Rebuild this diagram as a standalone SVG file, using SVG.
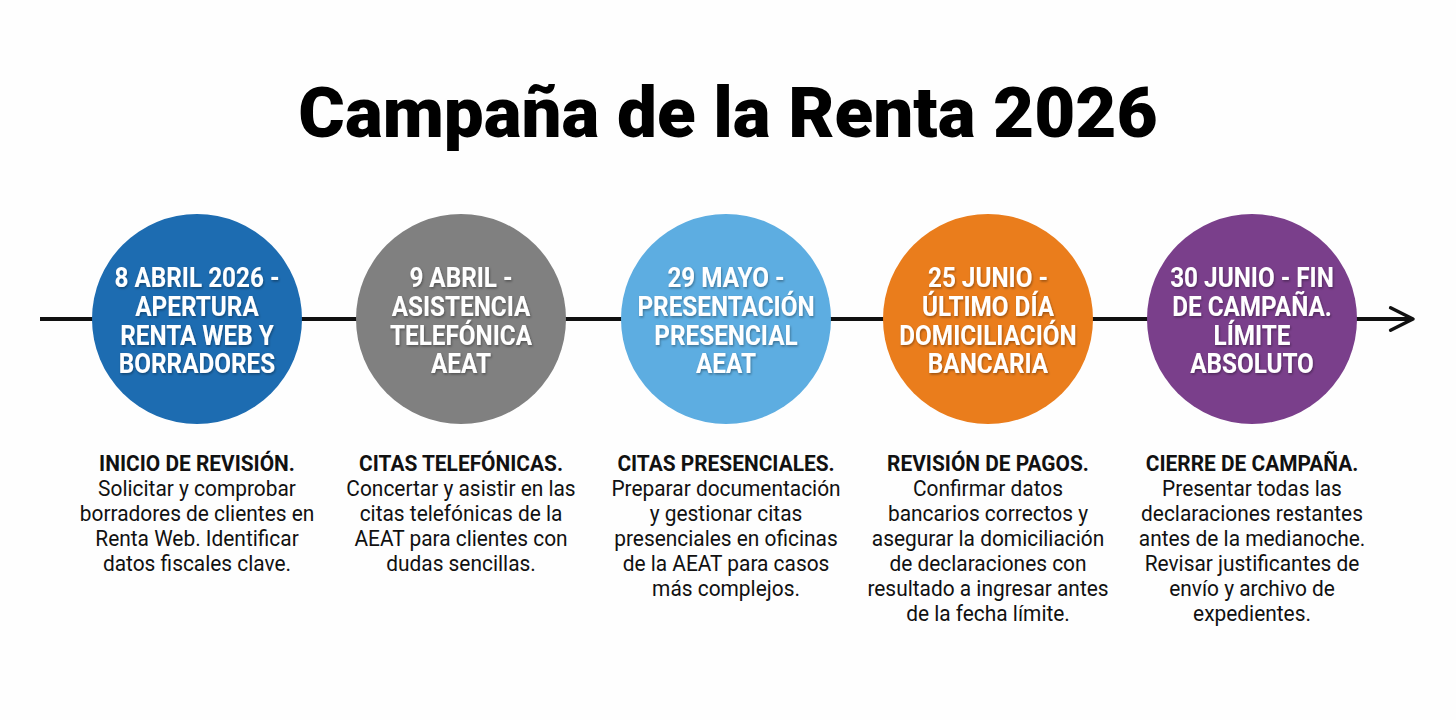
<svg xmlns="http://www.w3.org/2000/svg" width="1456" height="720" viewBox="0 0 1456 720">
  <defs>
    <marker id="chev" viewBox="0 0 20 20" refX="17" refY="10" markerWidth="8" markerHeight="8" markerUnits="strokeWidth" orient="auto">
      <path d="M3 3 L17 10 L3 17" fill="none" stroke="#111" stroke-width="2.2" stroke-linecap="round" stroke-linejoin="round"/>
    </marker>
    <filter id="sh" x="-10%" y="-10%" width="120%" height="130%">
      <feDropShadow dx="1" dy="1.5" stdDeviation="1" flood-color="#000" flood-opacity="0.35"/>
    </filter>
  </defs>
  <style>
    .title { font-family: Roboto, "Liberation Sans", sans-serif; font-weight: 900; font-size: 71px; fill: #000; text-anchor: middle; }
    .ct { font-family: Roboto, "Liberation Sans", sans-serif; font-weight: 700; font-size: 27px; fill: #fff; text-anchor: middle; filter: url(#sh); }
    .dh { font-family: Roboto, "Liberation Sans", sans-serif; font-weight: 700; font-size: 22px; fill: #111; text-anchor: middle; }
    .db { font-family: Roboto, "Liberation Sans", sans-serif; font-weight: 400; font-size: 22px; fill: #111; text-anchor: middle; }
  </style>
  <rect width="1456" height="720" fill="#fefefe"/>
  <text class="title" x="728" y="137">Campaña de la Renta 2026</text>

  <g id="connectors">
    <line x1="40" y1="319" x2="1413" y2="319" stroke="#111" stroke-width="4" marker-end="url(#chev)"/>
  </g>

  <g id="node1">
    <circle cx="197" cy="319" r="105" fill="#1d6cb1"/>
    <g transform="translate(197 0) scale(0.9 1)">
      <text class="ct" x="0" y="287">8 ABRIL 2026 -</text>
      <text class="ct" x="0" y="316">APERTURA</text>
      <text class="ct" x="0" y="345">RENTA WEB Y</text>
      <text class="ct" x="0" y="373">BORRADORES</text>
    </g>
    <g transform="translate(197 0) scale(0.95 1)">
      <text class="dh" x="0" y="471">INICIO DE REVISIÓN.</text>
      <text class="db" x="0" y="496">Solicitar y comprobar</text>
      <text class="db" x="0" y="521">borradores de clientes en</text>
      <text class="db" x="0" y="546">Renta Web. Identificar</text>
      <text class="db" x="0" y="571">datos fiscales clave.</text>
    </g>
  </g>

  <g id="node2">
    <circle cx="461" cy="319" r="105" fill="#808080"/>
    <g transform="translate(461 0) scale(0.9 1)">
      <text class="ct" x="0" y="287">9 ABRIL -</text>
      <text class="ct" x="0" y="316">ASISTENCIA</text>
      <text class="ct" x="0" y="345">TELEFÓNICA</text>
      <text class="ct" x="0" y="373">AEAT</text>
    </g>
    <g transform="translate(461 0) scale(0.95 1)">
      <text class="dh" x="0" y="471">CITAS TELEFÓNICAS.</text>
      <text class="db" x="0" y="496">Concertar y asistir en las</text>
      <text class="db" x="0" y="521">citas telefónicas de la</text>
      <text class="db" x="0" y="546">AEAT para clientes con</text>
      <text class="db" x="0" y="571">dudas sencillas.</text>
    </g>
  </g>

  <g id="node3">
    <circle cx="726" cy="319" r="105" fill="#5dade1"/>
    <g transform="translate(726 0) scale(0.9 1)">
      <text class="ct" x="0" y="287">29 MAYO -</text>
      <text class="ct" x="0" y="316">PRESENTACIÓN</text>
      <text class="ct" x="0" y="345">PRESENCIAL</text>
      <text class="ct" x="0" y="373">AEAT</text>
    </g>
    <g transform="translate(726 0) scale(0.95 1)">
      <text class="dh" x="0" y="471">CITAS PRESENCIALES.</text>
      <text class="db" x="0" y="496">Preparar documentación</text>
      <text class="db" x="0" y="521">y gestionar citas</text>
      <text class="db" x="0" y="546">presenciales en oficinas</text>
      <text class="db" x="0" y="571">de la AEAT para casos</text>
      <text class="db" x="0" y="596">más complejos.</text>
    </g>
  </g>

  <g id="node4">
    <circle cx="988" cy="319" r="105" fill="#ea7d1c"/>
    <g transform="translate(988 0) scale(0.9 1)">
      <text class="ct" x="0" y="287">25 JUNIO -</text>
      <text class="ct" x="0" y="316">ÚLTIMO DÍA</text>
      <text class="ct" x="0" y="345">DOMICILIACIÓN</text>
      <text class="ct" x="0" y="373">BANCARIA</text>
    </g>
    <g transform="translate(988 0) scale(0.95 1)">
      <text class="dh" x="0" y="471">REVISIÓN DE PAGOS.</text>
      <text class="db" x="0" y="496">Confirmar datos</text>
      <text class="db" x="0" y="521">bancarios correctos y</text>
      <text class="db" x="0" y="546">asegurar la domiciliación</text>
      <text class="db" x="0" y="571">de declaraciones con</text>
      <text class="db" x="0" y="596">resultado a ingresar antes</text>
      <text class="db" x="0" y="621">de la fecha límite.</text>
    </g>
  </g>

  <g id="node5">
    <circle cx="1252" cy="319" r="105" fill="#7a3f8b"/>
    <g transform="translate(1252 0) scale(0.9 1)">
      <text class="ct" x="0" y="287">30 JUNIO - FIN</text>
      <text class="ct" x="0" y="316">DE CAMPAÑA.</text>
      <text class="ct" x="0" y="345">LÍMITE</text>
      <text class="ct" x="0" y="373">ABSOLUTO</text>
    </g>
    <g transform="translate(1252 0) scale(0.95 1)">
      <text class="dh" x="0" y="471">CIERRE DE CAMPAÑA.</text>
      <text class="db" x="0" y="496">Presentar todas las</text>
      <text class="db" x="0" y="521">declaraciones restantes</text>
      <text class="db" x="0" y="546">antes de la medianoche.</text>
      <text class="db" x="0" y="571">Revisar justificantes de</text>
      <text class="db" x="0" y="596">envío y archivo de</text>
      <text class="db" x="0" y="621">expedientes.</text>
    </g>
  </g>
</svg>
